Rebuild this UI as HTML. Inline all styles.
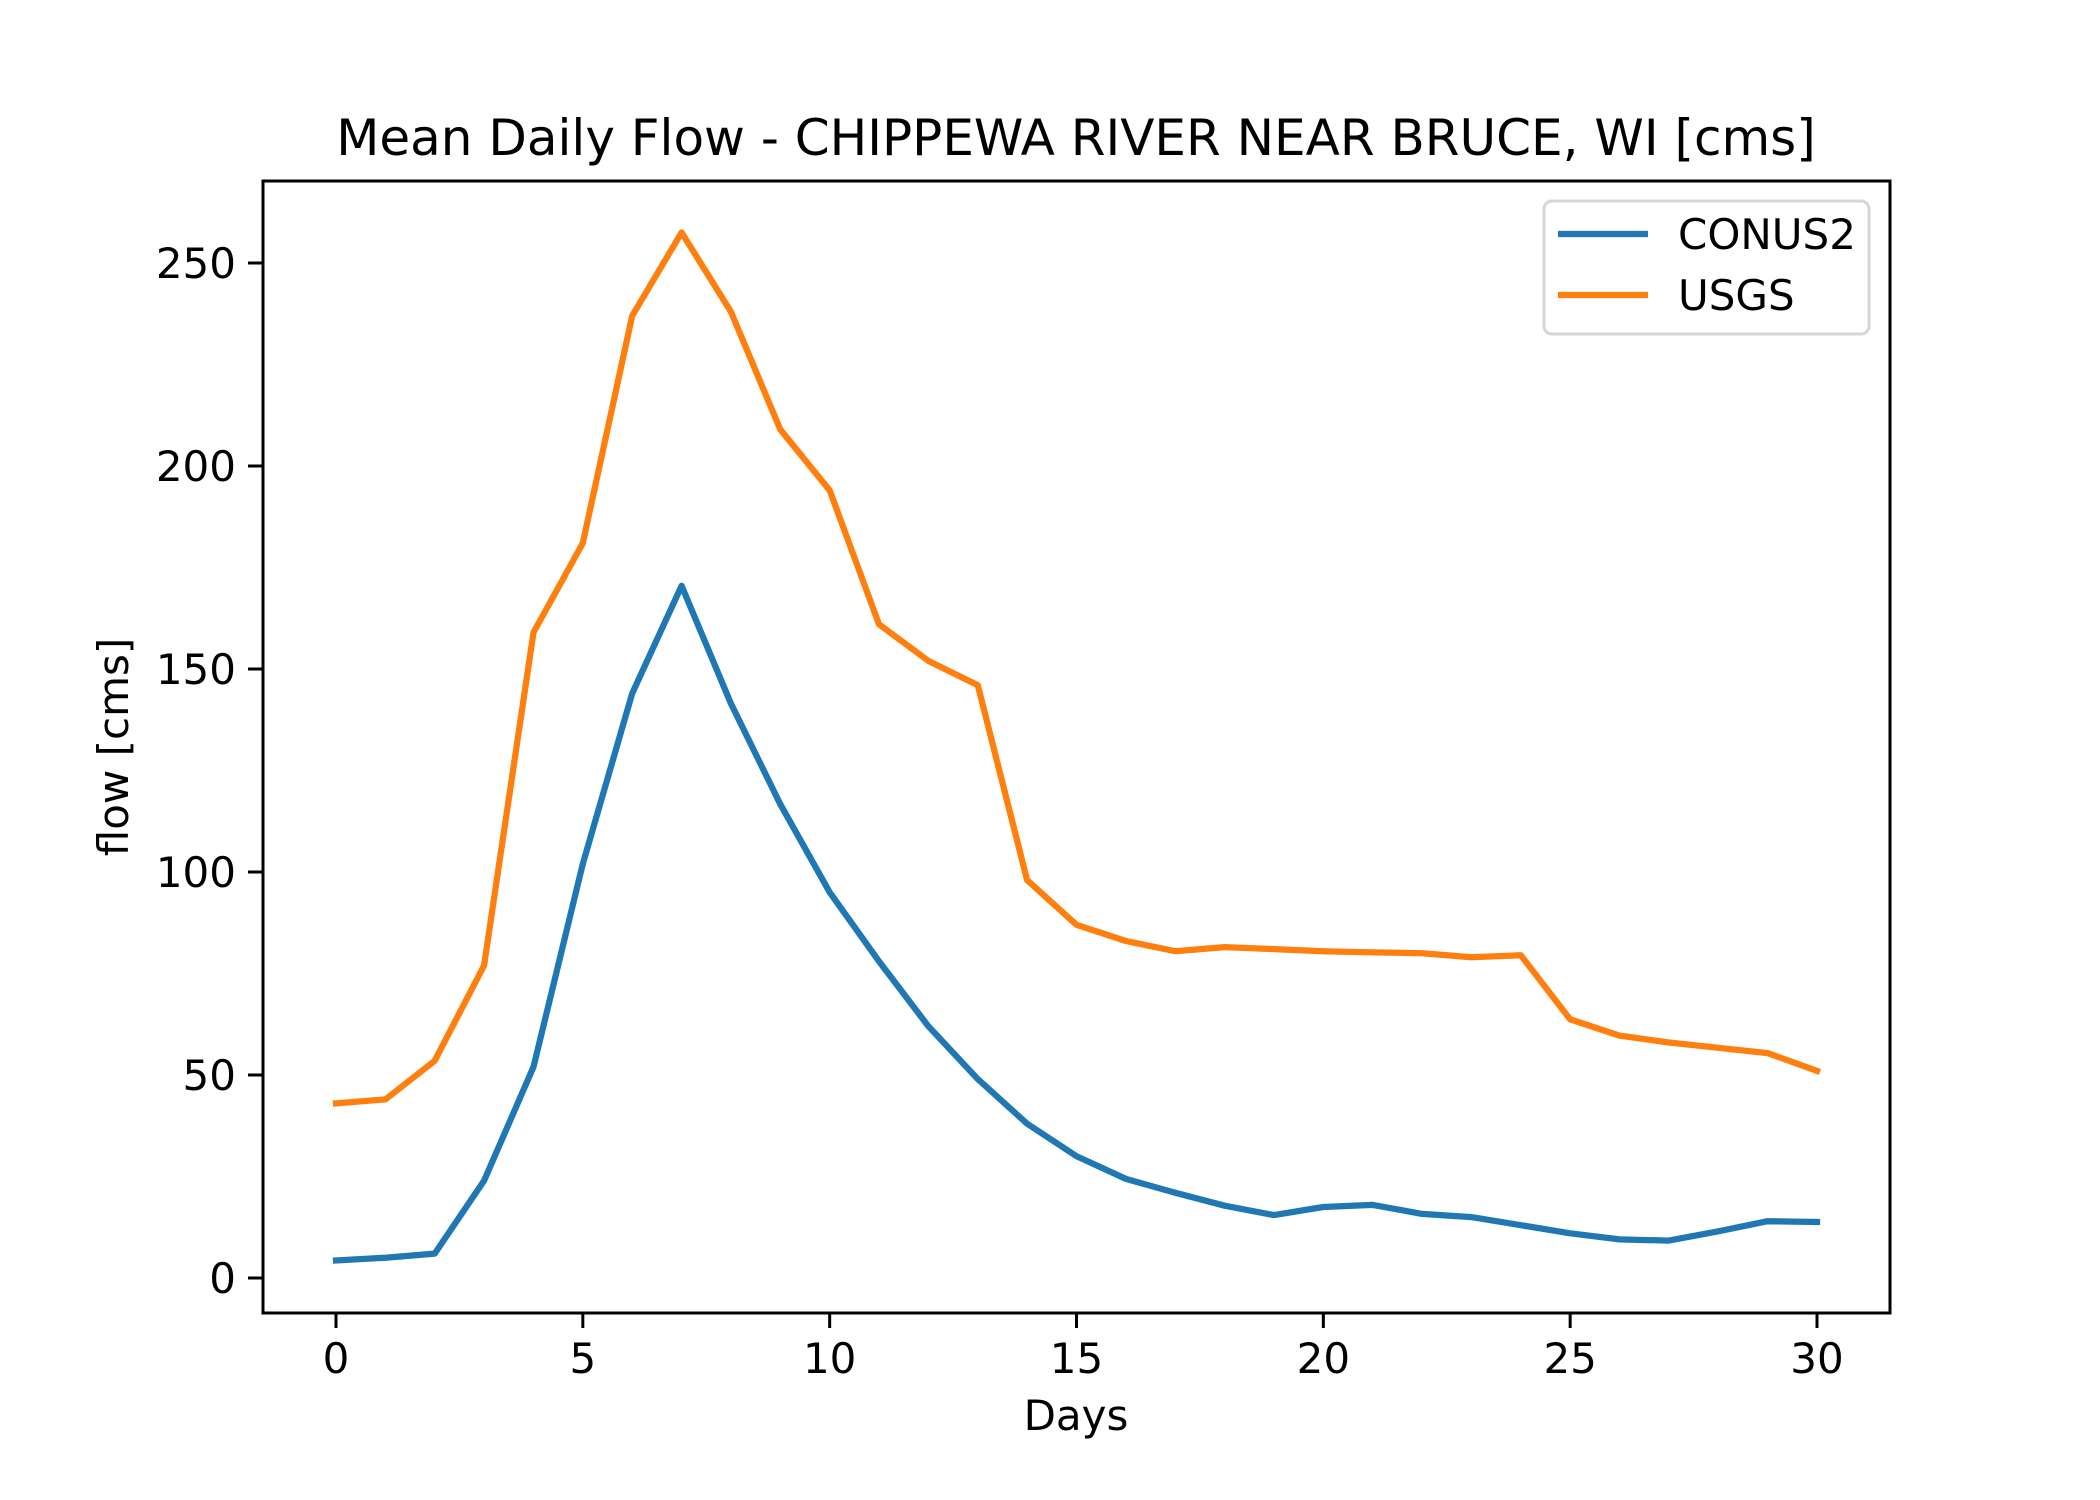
<!DOCTYPE html>
<html><head><meta charset="utf-8"><style>
html,body{margin:0;padding:0;background:#fff;}
svg{display:block;font-family:"DejaVu Sans","Liberation Sans",sans-serif;}
</style></head><body>
<svg id="chart" width="2100" height="1500" viewBox="0 0 2100 1500">
<rect width="2100" height="1500" fill="#fff"/>
<text x="1076" y="155" font-size="50" text-anchor="middle">Mean Daily Flow - CHIPPEWA RIVER NEAR BRUCE, WI [cms]</text>
<g id="plot"></g>
<rect x="263" y="181" width="1627" height="1132" fill="none" stroke="#000" stroke-width="3"/>
<text x="1076" y="1430" font-size="42" text-anchor="middle">Days</text>
<text x="0" y="0" font-size="42" text-anchor="middle" transform="translate(128,747) rotate(-90)">flow [cms]</text>
<g>
<rect x="1544" y="201" width="325" height="133" rx="8" fill="#fff" fill-opacity="0.8" stroke="#d6d6d6" stroke-width="3"/>
<line x1="1558" y1="234" x2="1648" y2="234" stroke="#1f77b4" stroke-width="6.25"/>
<text x="1678" y="249" font-size="42">CONUS2</text>
<line x1="1558" y1="295" x2="1648" y2="295" stroke="#ff7f0e" stroke-width="6.25"/>
<text x="1678" y="310" font-size="42">USGS</text>
</g>
</svg>
<script>
const days = [0,1,2,3,4,5,6,7,8,9,10,11,12,13,14,15,16,17,18,19,20,21,22,23,24,25,26,27,28,29,30];
const conus2 = [4.3,5,6,24,52,102,144,170.5,141.5,116.7,95,78,62,49,38,30,24.4,21,17.8,15.5,17.5,18,15.8,15,13,11,9.5,9.2,11.5,14,13.8];
const usgs = [43,44,53.5,77,159,181,237,257.5,238,209,194,161,152,146,98,87,83,80.5,81.5,81,80.5,80.2,80,79,79.5,63.7,59.7,58,56.7,55.4,51];
const xTicks = [0,5,10,15,20,25,30];
const yTicks = [0,50,100,150,200,250];

const NS = "http://www.w3.org/2000/svg";
const g = document.getElementById('plot');
function xs(v){ return 336 + v*(1817-336)/30; }
function ys(v){ return 1278 - v*(1278-263)/250; }
function mk(tag, attrs){ const e=document.createElementNS(NS,tag); for(const k in attrs) e.setAttribute(k,attrs[k]); g.appendChild(e); return e; }

xTicks.forEach(t=>{
  const l = mk('line',{x1:xs(t),x2:xs(t),y1:1313,y2:1328,stroke:'#000','stroke-width':3});
  
  
  const tx = mk('text',{x:xs(t),y:1373,'font-size':42,'text-anchor':'middle'});
  tx.textContent = t;
  
  
});
yTicks.forEach(t=>{
  const l = mk('line',{x1:248,x2:263,y1:ys(t),y2:ys(t),stroke:'#000','stroke-width':3});
  
  
  const tx = mk('text',{x:236,y:ys(t)+15,'font-size':42,'text-anchor':'end'});
  tx.textContent = t;
  
  
});
function series(vals,color,name){
  const d = vals.map((v,i)=>(i?'L':'M')+xs(days[i]).toFixed(1)+' '+ys(v).toFixed(1)).join(' ');
  const p = mk('path',{d:d,fill:'none',stroke:color,'stroke-width':6.25,'stroke-linejoin':'round','stroke-linecap':'square'});
  
  
}
series(conus2,'#1f77b4','conus2-line');
series(usgs,'#ff7f0e','usgs-line');
</script>
</body></html>
